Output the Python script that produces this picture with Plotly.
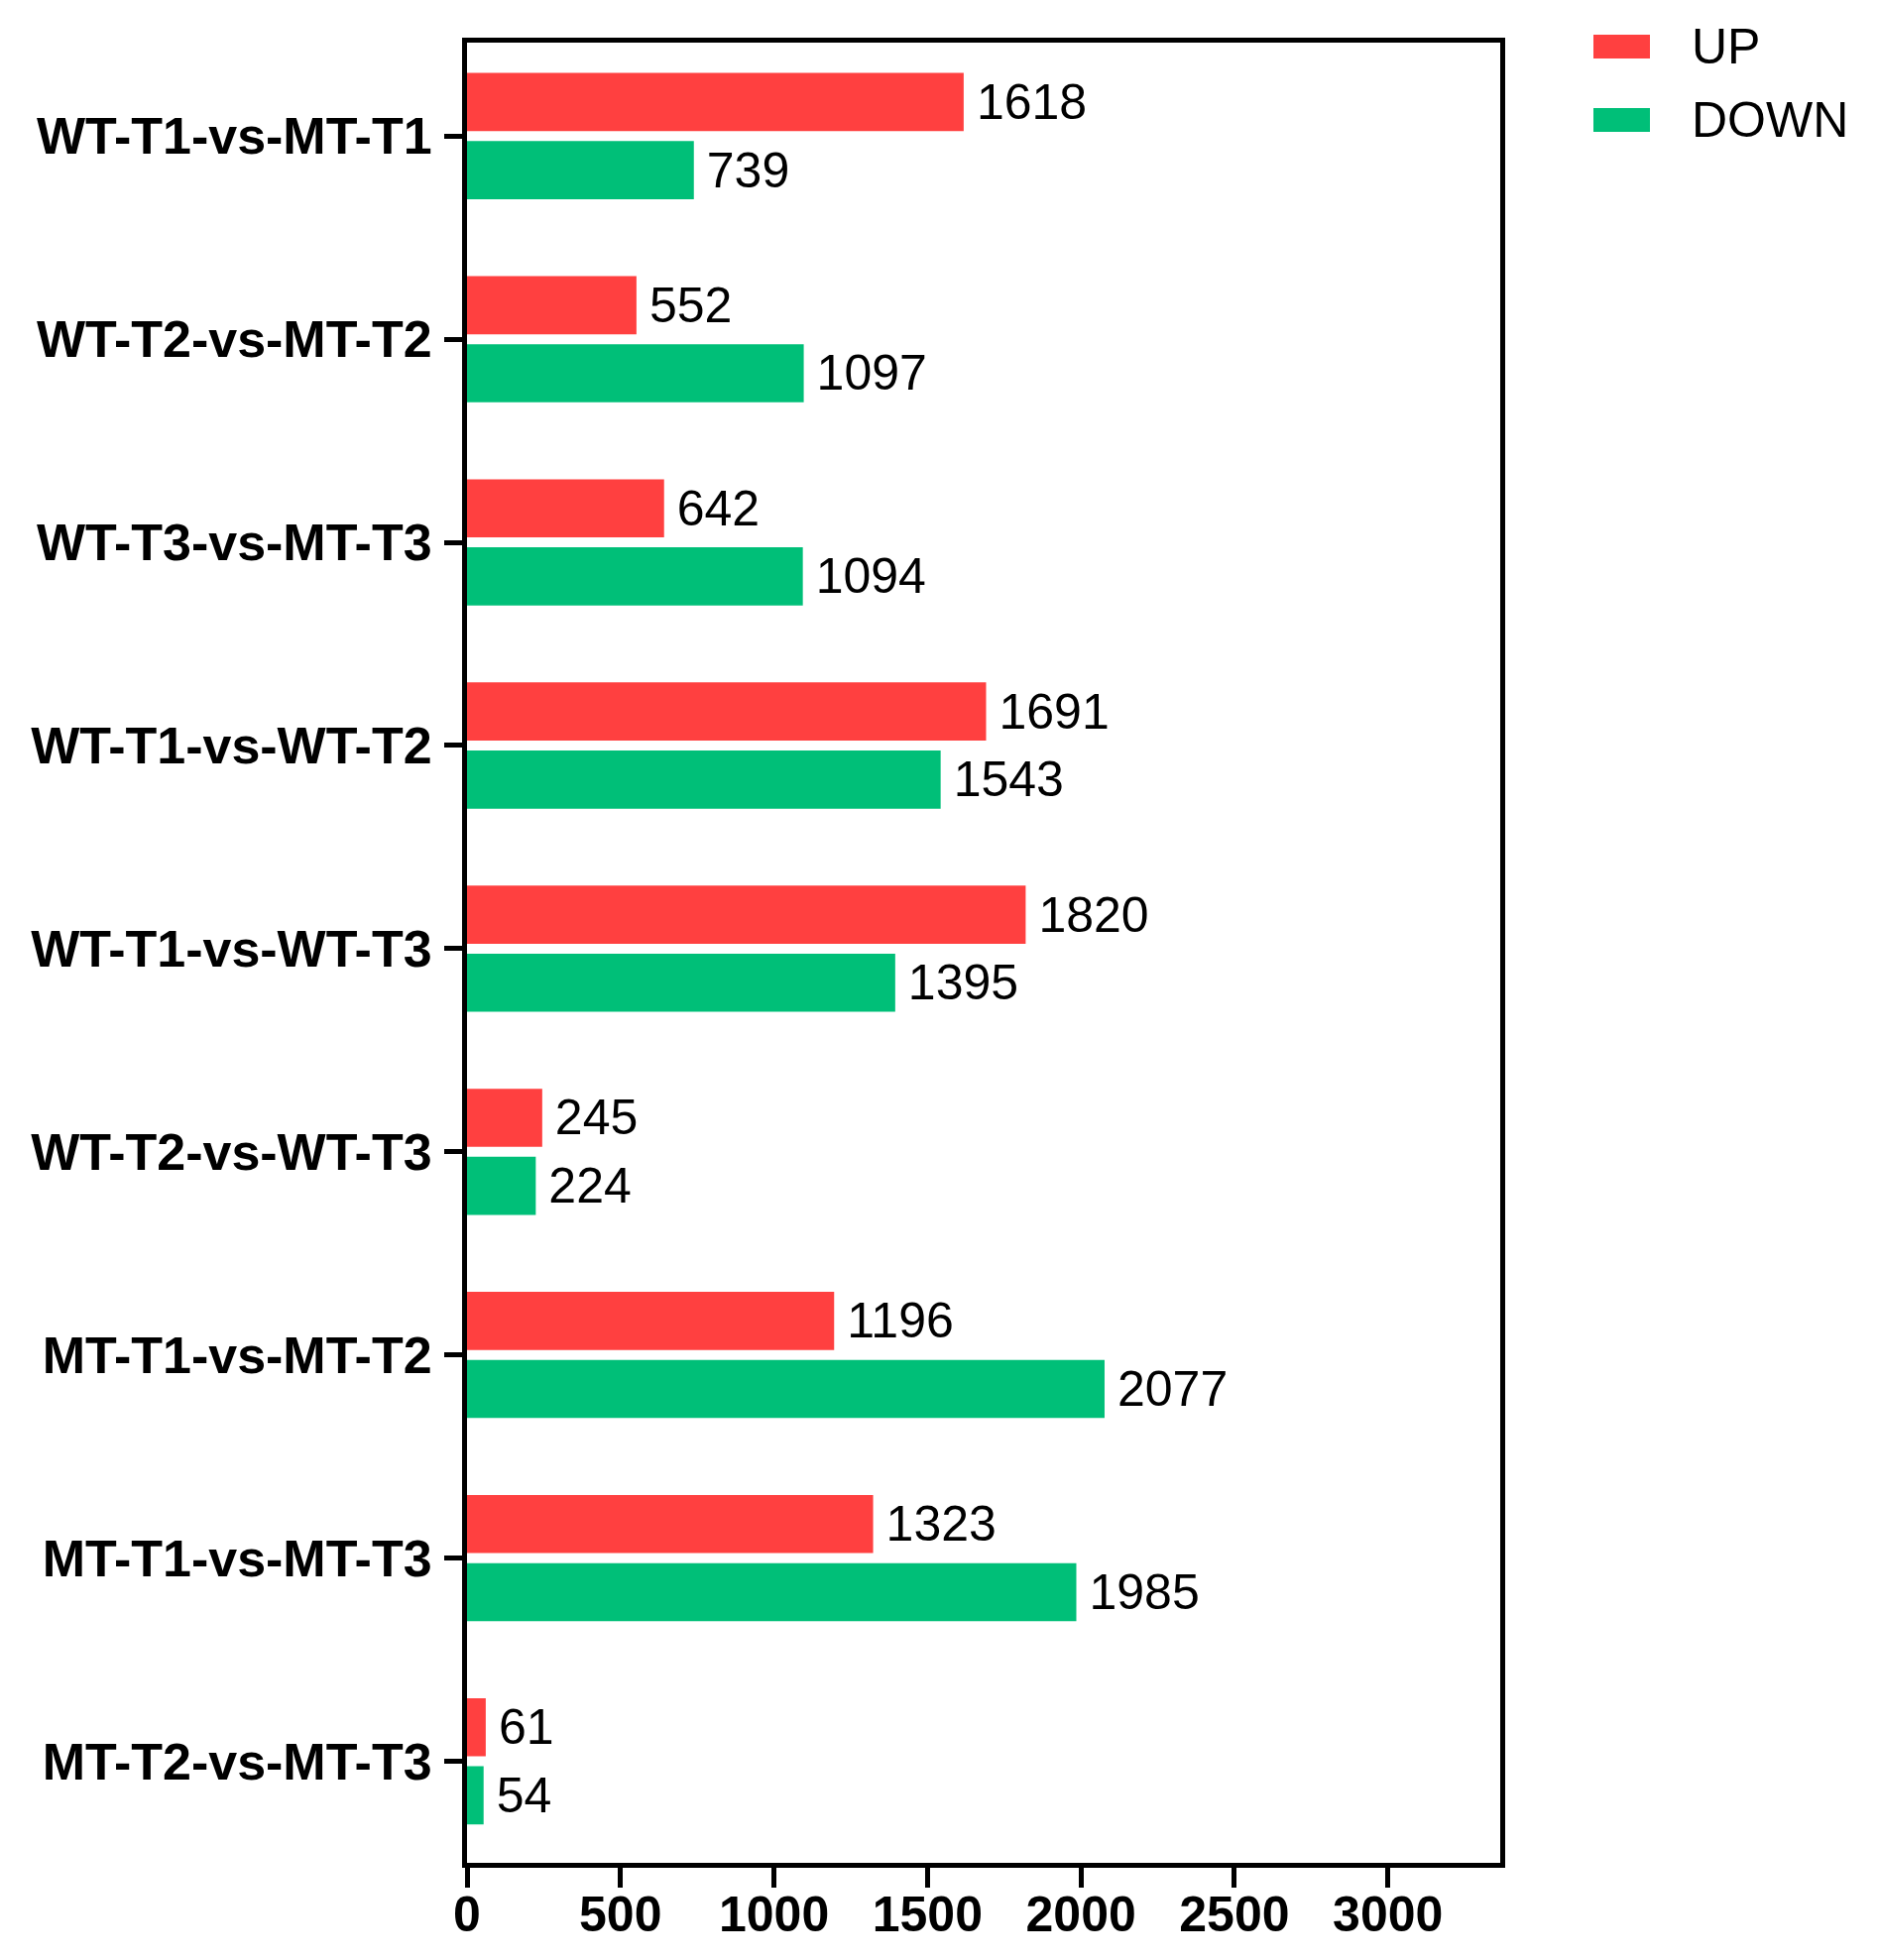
import plotly.graph_objects as go

categories = ["WT-T1-vs-MT-T1", "WT-T2-vs-MT-T2", "WT-T3-vs-MT-T3", "WT-T1-vs-WT-T2",
              "WT-T1-vs-WT-T3", "WT-T2-vs-WT-T3", "MT-T1-vs-MT-T2", "MT-T1-vs-MT-T3",
              "MT-T2-vs-MT-T3"]
up_values = [1618, 552, 642, 1691, 1820, 245, 1196, 1323, 61]
down_values = [739, 1097, 1094, 1543, 1395, 224, 2077, 1985, 54]
series_names = ["UP", "DOWN"]
x_ticks = [0, 500, 1000, 1500, 2000, 2500, 3000]

RED = "#FF4040"
GREEN = "#00BF78"
FONT = "Arial, Liberation Sans, sans-serif"

W, H = 1894, 1977
L, R, T, B = 471, 381, 43, 98
PW, PH = W - L - R, H - T - B


def px_x(px):
    return (px - L) / PW


def px_y(py):
    return 1 - (py - T) / PH


fig = go.Figure()
for name, vals, col in [(series_names[0], up_values, RED), (series_names[1], down_values, GREEN)]:
    fig.add_trace(go.Bar(
        name=name, y=categories, x=vals, orientation="h",
        marker=dict(color=col, line=dict(width=0)),
        texttemplate="\u2009%{x}", textposition="outside",
        textfont=dict(family=FONT, size=50, color="black"),
        constraintext="none", cliponaxis=False, showlegend=False,
    ))

# legend drawn as swatches + labels
legend_rows = [(series_names[0], RED, 47), (series_names[1], GREEN, 121)]
shapes, annotations = [], []
for name, col, cy in legend_rows:
    shapes.append(dict(type="rect", xref="paper", yref="paper",
                       x0=px_x(1607), x1=px_x(1664), y0=px_y(cy - 12), y1=px_y(cy + 12),
                       fillcolor=col, line=dict(width=0), layer="above"))
    annotations.append(dict(xref="paper", yref="paper", x=px_x(1704), y=px_y(cy),
                            xanchor="left", yanchor="middle", showarrow=False, text=name,
                            font=dict(family=FONT, size=50, color="black")))

fig.update_layout(
    width=W, height=H,
    margin=dict(l=L, r=R, t=T, b=B, autoexpand=False),
    paper_bgcolor="white", plot_bgcolor="white",
    barmode="group", bargap=0.33, bargroupgap=0.146,
    font=dict(family=FONT, color="black"),
    showlegend=False, shapes=shapes, annotations=annotations,
)
fig.update_yaxes(
    type="category", categoryorder="array", categoryarray=categories,
    range=[8.5, -0.46], automargin=False,
    showline=True, mirror=True, linecolor="black", linewidth=5,
    ticks="outside", ticklen=18, tickwidth=5, tickcolor="black",
    tickfont=dict(family=FONT, size=52, color="black", weight="bold"),
    showgrid=False, zeroline=False, ticklabelstandoff=2,
)
fig.update_xaxes(
    range=[0, 3366], tickvals=x_ticks, ticktext=[str(t) for t in x_ticks],
    automargin=False,
    showline=True, mirror=True, linecolor="black", linewidth=5,
    ticks="outside", ticklen=20, tickwidth=5, tickcolor="black",
    tickfont=dict(family=FONT, size=50, color="black", weight="bold"),
    showgrid=False, zeroline=False, ticklabelstandoff=-16,
)

fig.write_html("out.html", config={"displayModeBar": False},
               post_script="document.body.style.margin='0';")
